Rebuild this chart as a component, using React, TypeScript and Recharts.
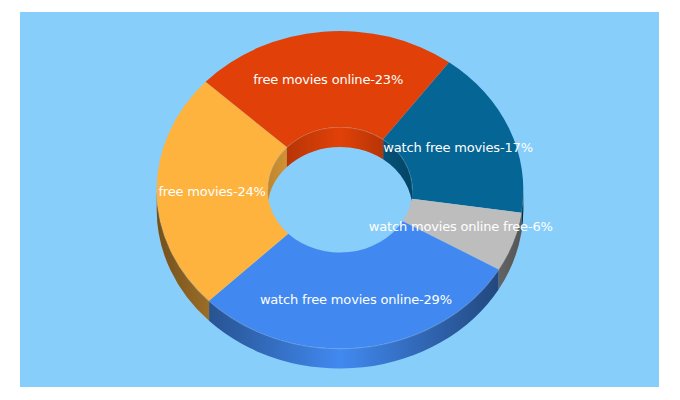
import { PieChart, Pie, Cell } from "recharts";

const keywords = [
  "watch free movies",
  "watch movies online free",
  "watch free movies online",
  "free movies",
  "free movies online",
];
const shares = [17, 6, 29, 24, 23];
const colors = ["#056595", "#bdbdbd", "#4189f0", "#feb33f", "#e14108"];

const rows = keywords.map((name, i) => ({ name, value: shares[i], fill: colors[i] }));

// the donut is lying down: radii get squashed vertically, walls hang below the top face
const CX = 320;
const CY = 177.75;
const OUTER = 183.3;
const INNER = 72.5;
const SQUASH = 0.866;
const DEPTH = 20;
const START = 53.5;

const rad = (deg: number) => (deg * Math.PI) / 180;

const pt = (cx: number, cy: number, r: number, deg: number, dy = 0) =>
  `${cx + r * Math.cos(rad(deg))} ${cy - r * SQUASH * Math.sin(rad(deg)) + dy}`;

// arc between two angles, works both directions
const arcTo = (cx: number, cy: number, r: number, from: number, to: number, dy = 0) => {
  const large = Math.abs(from - to) > 180 ? 1 : 0;
  const sweep = to < from ? 1 : 0;
  return `A ${r} ${r * SQUASH} 0 ${large} ${sweep} ${pt(cx, cy, r, to, dy)}`;
};

const wallPath = (cx: number, cy: number, r: number, a: number, b: number) =>
  `M ${pt(cx, cy, r, a)} ${arcTo(cx, cy, r, a, b)} L ${pt(cx, cy, r, b, DEPTH)} ${arcTo(cx, cy, r, b, a, DEPTH)} Z`;

// part of the sector that falls inside the [hi, lo] window, angles run downwards
const clip = (s: number, e: number, hi: number, lo: number) => {
  const a = Math.min(s, hi);
  const b = Math.max(e, lo);
  return a > b ? [a, b] : null;
};

function TopFace(props: any) {
  const { cx, cy, innerRadius, outerRadius, startAngle, endAngle, fill } = props;
  const d =
    `M ${pt(cx, cy, outerRadius, startAngle)} ${arcTo(cx, cy, outerRadius, startAngle, endAngle)} ` +
    `L ${pt(cx, cy, innerRadius, endAngle)} ${arcTo(cx, cy, innerRadius, endAngle, startAngle)} Z`;
  return <path d={d} fill={fill} stroke="none" />;
}

function Walls(props: any) {
  const { cx, cy, innerRadius, outerRadius, startAngle, endAngle, fill } = props;
  const paths: { d: string; rim: string; shade: string }[] = [];

  // outer wall only shows on the front half
  const front = clip(startAngle, endAngle, 0, -180);
  if (front) {
    paths.push({
      d: wallPath(cx, cy, outerRadius, front[0], front[1]),
      rim: `M ${pt(cx, cy, outerRadius, front[0])} ${arcTo(cx, cy, outerRadius, front[0], front[1])}`,
      shade: "url(#outerShade)",
    });
  }

  // inner wall only shows on the back half
  [clip(startAngle, endAngle, 180, 0), clip(startAngle, endAngle, -180, -360)].forEach((back) => {
    if (back) {
      paths.push({
        d: wallPath(cx, cy, innerRadius, back[0], back[1]),
        rim: `M ${pt(cx, cy, innerRadius, back[0])} ${arcTo(cx, cy, innerRadius, back[0], back[1])}`,
        shade: "url(#innerShade)",
      });
    }
  });

  return (
    <g>
      {paths.map((p, i) => (
        <g key={i}>
          <path d={p.d} fill={fill} stroke="none" />
          <path d={p.d} fill={p.shade} stroke="none" />
          <path d={p.rim} fill="none" stroke="#ffffff" strokeOpacity={0.2} strokeWidth={1.6} />
        </g>
      ))}
    </g>
  );
}

function renderLabel(props: any) {
  const { cx, cy, innerRadius, outerRadius, midAngle, name, value } = props;
  const r = (innerRadius + outerRadius) / 2;
  return (
    <text
      x={cx + r * Math.cos(rad(midAngle))}
      y={cy - r * SQUASH * Math.sin(rad(midAngle))}
      fill="#ffffff"
      fontFamily="'DejaVu Sans'"
      fontSize={13}
      letterSpacing={-0.18}
      textAnchor="middle"
      dominantBaseline="central"
    >
      {`${name}-${value}%`}
    </text>
  );
}

export default function App() {
  return (
    <div style={{ position: "absolute", left: 20, top: 12, width: 639, height: 375, background: "#87cefa" }}>
      <PieChart width={639} height={375} margin={{ top: 0, right: 0, bottom: 0, left: 0 }}>
        <defs>
          <linearGradient id="outerShade" gradientUnits="userSpaceOnUse" x1={CX - OUTER} x2={CX + OUTER} y1={0} y2={0}>
            <stop offset="0" stopColor="#000" stopOpacity={0.55} />
            <stop offset="0.5" stopColor="#000" stopOpacity={0} />
            <stop offset="1" stopColor="#000" stopOpacity={0.55} />
          </linearGradient>
          <linearGradient id="innerShade" gradientUnits="userSpaceOnUse" x1={CX - INNER} x2={CX + INNER} y1={0} y2={0}>
            <stop offset="0" stopColor="#000" stopOpacity={0.25} />
            <stop offset="0.5" stopColor="#000" stopOpacity={0} />
            <stop offset="1" stopColor="#000" stopOpacity={0.32} />
          </linearGradient>
        </defs>
        <Pie
          data={rows}
          dataKey="value"
          nameKey="name"
          cx={CX}
          cy={CY}
          innerRadius={INNER}
          outerRadius={OUTER}
          startAngle={START}
          endAngle={START - 360}
          stroke="none"
          shape={Walls}
          isAnimationActive={false}
        >
          {rows.map((r) => (
            <Cell key={r.name} fill={r.fill} />
          ))}
        </Pie>
        <Pie
          data={rows}
          dataKey="value"
          nameKey="name"
          cx={CX}
          cy={CY}
          innerRadius={INNER}
          outerRadius={OUTER}
          startAngle={START}
          endAngle={START - 360}
          stroke="none"
          shape={TopFace}
          label={renderLabel}
          labelLine={false}
          isAnimationActive={false}
        >
          {rows.map((r) => (
            <Cell key={r.name} fill={r.fill} />
          ))}
        </Pie>
      </PieChart>
    </div>
  );
}
